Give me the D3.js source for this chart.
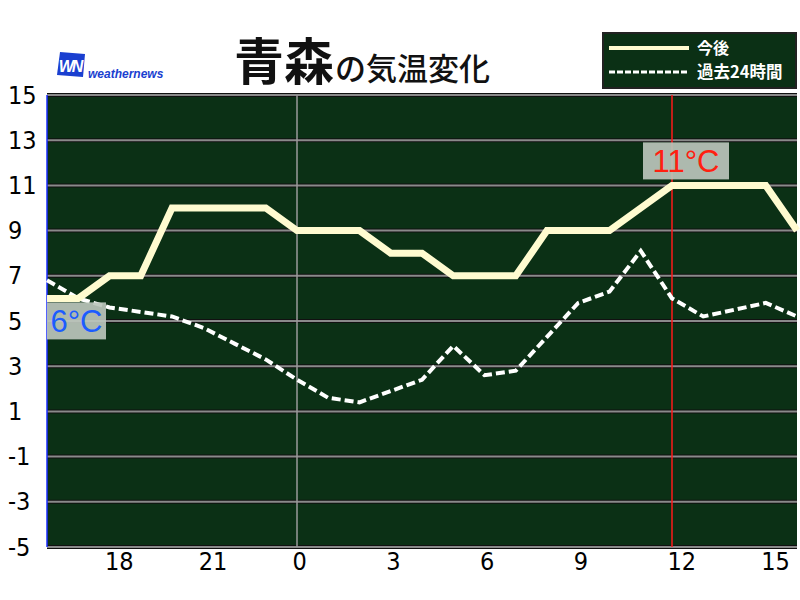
<!DOCTYPE html>
<html>
<head>
<meta charset="utf-8">
<script src="https://cdn.jsdelivr.net/npm/d3@7"></script>
<style>
  body { margin: 0; background: #fff; }
  .tick text { font-family: "DejaVu Sans Condensed", "DejaVu Sans", sans-serif; font-stretch: condensed; }
</style>
</head>
<body>
<div id="chart"></div>
<script>
// hours from 16:00 yesterday to 16:00 today
var hours = [16, 17, 18, 19, 20, 21, 22, 23, 0, 1, 2, 3, 4, 5, 6, 7, 8, 9, 10, 11, 12, 13, 14, 15, 16];

// 今後 (forecast)
var futureTemps = [6, 6, 7, 7, 10, 10, 10, 10, 9, 9, 9, 8, 8, 7, 7, 7, 9, 9, 9, 10, 11, 11, 11, 11, 9];

// 過去24時間 (last 24 hours)
var pastTemps = [6.8, 6.0, 5.6, 5.4, 5.2, 4.7, 4.0, 3.3, 2.4, 1.6, 1.4, 1.9, 2.4, 3.9, 2.6, 2.8, 4.3, 5.8, 6.3, 8.1, 6.0, 5.2, 5.5, 5.8, 5.2];

var xTickIdx = [2, 5, 8, 11, 14, 17, 20, 23];
var yTicks = [15, 13, 11, 9, 7, 5, 3, 1, -1, -3, -5];

var nowIdx = 20;       // 12時 marker
var minIdx = 1;
var minLabel = "6°C";
var maxLabel = "11°C";

var svgWidth = 800;
var svgHeight = 600;

var plot = { left: 47, right: 797, top: 95, bottom: 547 };

var svg = d3.select("#chart")
    .append("svg")
    .attr("width", svgWidth)
    .attr("height", svgHeight);

var xScale = d3.scaleLinear()
    .domain([0, hours.length - 1])
    .range([plot.left, plot.right]);

var yScale = d3.scaleLinear()
    .domain([-5, 15])
    .range([plot.bottom, plot.top]);

// plot background
svg.append("rect")
    .attr("x", plot.left)
    .attr("y", plot.top)
    .attr("width", plot.right - plot.left)
    .attr("height", plot.bottom - plot.top)
    .attr("fill", "#0b3015");

// horizontal grid (dark edge + gray core)
svg.append("g")
    .selectAll("line")
    .data(yTicks)
    .enter()
    .append("line")
    .attr("x1", plot.left)
    .attr("x2", plot.right)
    .attr("y1", d => yScale(d))
    .attr("y2", d => yScale(d))
    .attr("stroke", "#111")
    .attr("stroke-width", 4);

svg.append("g")
    .selectAll("line")
    .data(yTicks)
    .enter()
    .append("line")
    .attr("x1", plot.left)
    .attr("x2", plot.right)
    .attr("y1", d => yScale(d))
    .attr("y2", d => yScale(d))
    .attr("stroke", "#8a8a8a")
    .attr("stroke-width", 2);

// midnight line
svg.append("line")
    .attr("x1", xScale(8)).attr("x2", xScale(8))
    .attr("y1", plot.top).attr("y2", plot.bottom)
    .attr("stroke", "#9a9a9a")
    .attr("stroke-width", 1.5);

// left border
svg.append("line")
    .attr("x1", plot.left).attr("x2", plot.left)
    .attr("y1", plot.top).attr("y2", plot.bottom)
    .attr("stroke", "#1a2cff")
    .attr("stroke-width", 1.5);

// y axis
var yAxis = d3.axisLeft(yScale)
    .tickValues(yTicks)
    .tickFormat(d => String(d))
    .tickSize(0)
    .tickPadding(0);
var yG = svg.append("g")
    .attr("transform", "translate(8,0)")
    .call(yAxis);
yG.select(".domain").remove();
yG.selectAll("text")
    .attr("text-anchor", "start")
    .attr("font-size", 25)
    .attr("fill", "#000");

// x axis
var xAxis = d3.axisBottom(xScale)
    .tickValues(xTickIdx)
    .tickFormat(i => String(hours[i]))
    .tickSize(0)
    .tickPadding(5);
var xG = svg.append("g")
    .attr("transform", `translate(0, ${plot.bottom})`)
    .call(xAxis);
xG.select(".domain").remove();
xG.selectAll("text")
    .attr("text-anchor", "start")
    .attr("dx", -5)
    .attr("font-size", 25)
    .attr("fill", "#000");

// 12時 red line
svg.append("line")
    .attr("x1", xScale(nowIdx)).attr("x2", xScale(nowIdx))
    .attr("y1", plot.top).attr("y2", plot.bottom)
    .attr("stroke", "#ff1a1a")
    .attr("stroke-width", 1.5);

var line = d3.line()
    .x((d, i) => xScale(i))
    .y(d => yScale(d));

// past line
svg.append("path")
    .datum(pastTemps)
    .attr("d", line)
    .attr("fill", "none")
    .attr("stroke", "#ffffff")
    .attr("stroke-width", 4)
    .attr("stroke-dasharray", "9,4");

// future line
svg.append("path")
    .datum(futureTemps)
    .attr("d", line)
    .attr("fill", "none")
    .attr("stroke", "#fffbd0")
    .attr("stroke-width", 7)
    .attr("stroke-linejoin", "miter");

// min / max labels
function tempLabel(x, y, w, txt, color) {
    svg.append("rect")
        .attr("x", x).attr("y", y)
        .attr("width", w).attr("height", 37)
        .attr("fill", "#bcc6bc")
        .attr("opacity", 0.92);
    svg.append("text")
        .attr("x", x + w / 2)
        .attr("y", y + 30)
        .attr("text-anchor", "middle")
        .attr("font-family", "Liberation Sans, Arial, sans-serif")
        .attr("font-size", 31)
        .attr("fill", color)
        .text(txt);
}
tempLabel(plot.left, yScale(futureTemps[minIdx]) + 4, 59, minLabel, "#1c5cff");
tempLabel(xScale(nowIdx) - 29, yScale(futureTemps[nowIdx]) - 43, 86, maxLabel, "#ff2010");

// title
svg.append("text")
    .attr("x", 234)
    .attr("y", 80)
    .attr("font-family", "Noto Sans CJK JP")
    .attr("font-weight", "bold")
    .attr("font-size", 50)
    .attr("fill", "#111")
    .text("青森");
svg.append("text")
    .attr("x", 335)
    .attr("y", 80)
    .attr("font-family", "Noto Sans CJK JP")
    .attr("font-weight", 500)
    .attr("font-size", 31)
    .attr("fill", "#111")
    .text("の気温変化");

// logo
svg.append("path")
    .attr("d", "M60,52 L85,54 L83,77 L57,75 Z")
    .attr("fill", "#1a3fd0");
svg.append("text")
    .attr("x", 70)
    .attr("y", 72)
    .attr("text-anchor", "middle")
    .attr("font-family", "Liberation Sans, Arial, sans-serif")
    .attr("font-style", "italic")
    .attr("font-weight", "bold")
    .attr("font-size", 16)
    .attr("letter-spacing", -2)
    .attr("fill", "#fff")
    .text("WN");
svg.append("text")
    .attr("x", 88)
    .attr("y", 78)
    .attr("font-family", "Liberation Sans, Arial, sans-serif")
    .attr("font-style", "italic")
    .attr("font-weight", "bold")
    .attr("font-size", 12)
    .attr("fill", "#1a3fd0")
    .text("weathernews");

// legend
var legend = svg.append("g");
legend.append("rect")
    .attr("x", 603).attr("y", 33)
    .attr("width", 193).attr("height", 55)
    .attr("fill", "#0b3015")
    .attr("stroke", "#222")
    .attr("stroke-width", 2);
legend.append("line")
    .attr("x1", 609).attr("x2", 689)
    .attr("y1", 48).attr("y2", 48)
    .attr("stroke", "#fffbd0").attr("stroke-width", 4);
legend.append("line")
    .attr("x1", 609).attr("x2", 689)
    .attr("y1", 72).attr("y2", 72)
    .attr("stroke", "#fff").attr("stroke-width", 3)
    .attr("stroke-dasharray", "6,2");
legend.append("text")
    .attr("x", 697).attr("y", 54)
    .attr("font-family", "Noto Sans CJK JP")
    .attr("font-weight", "bold")
    .attr("font-size", 16)
    .attr("fill", "#fff")
    .text("今後");
legend.append("text")
    .attr("x", 697).attr("y", 78)
    .attr("font-family", "Noto Sans CJK JP")
    .attr("font-weight", "bold")
    .attr("font-size", 16.5)
    .attr("fill", "#fff")
    .text("過去24時間");
</script>
</body>
</html>
